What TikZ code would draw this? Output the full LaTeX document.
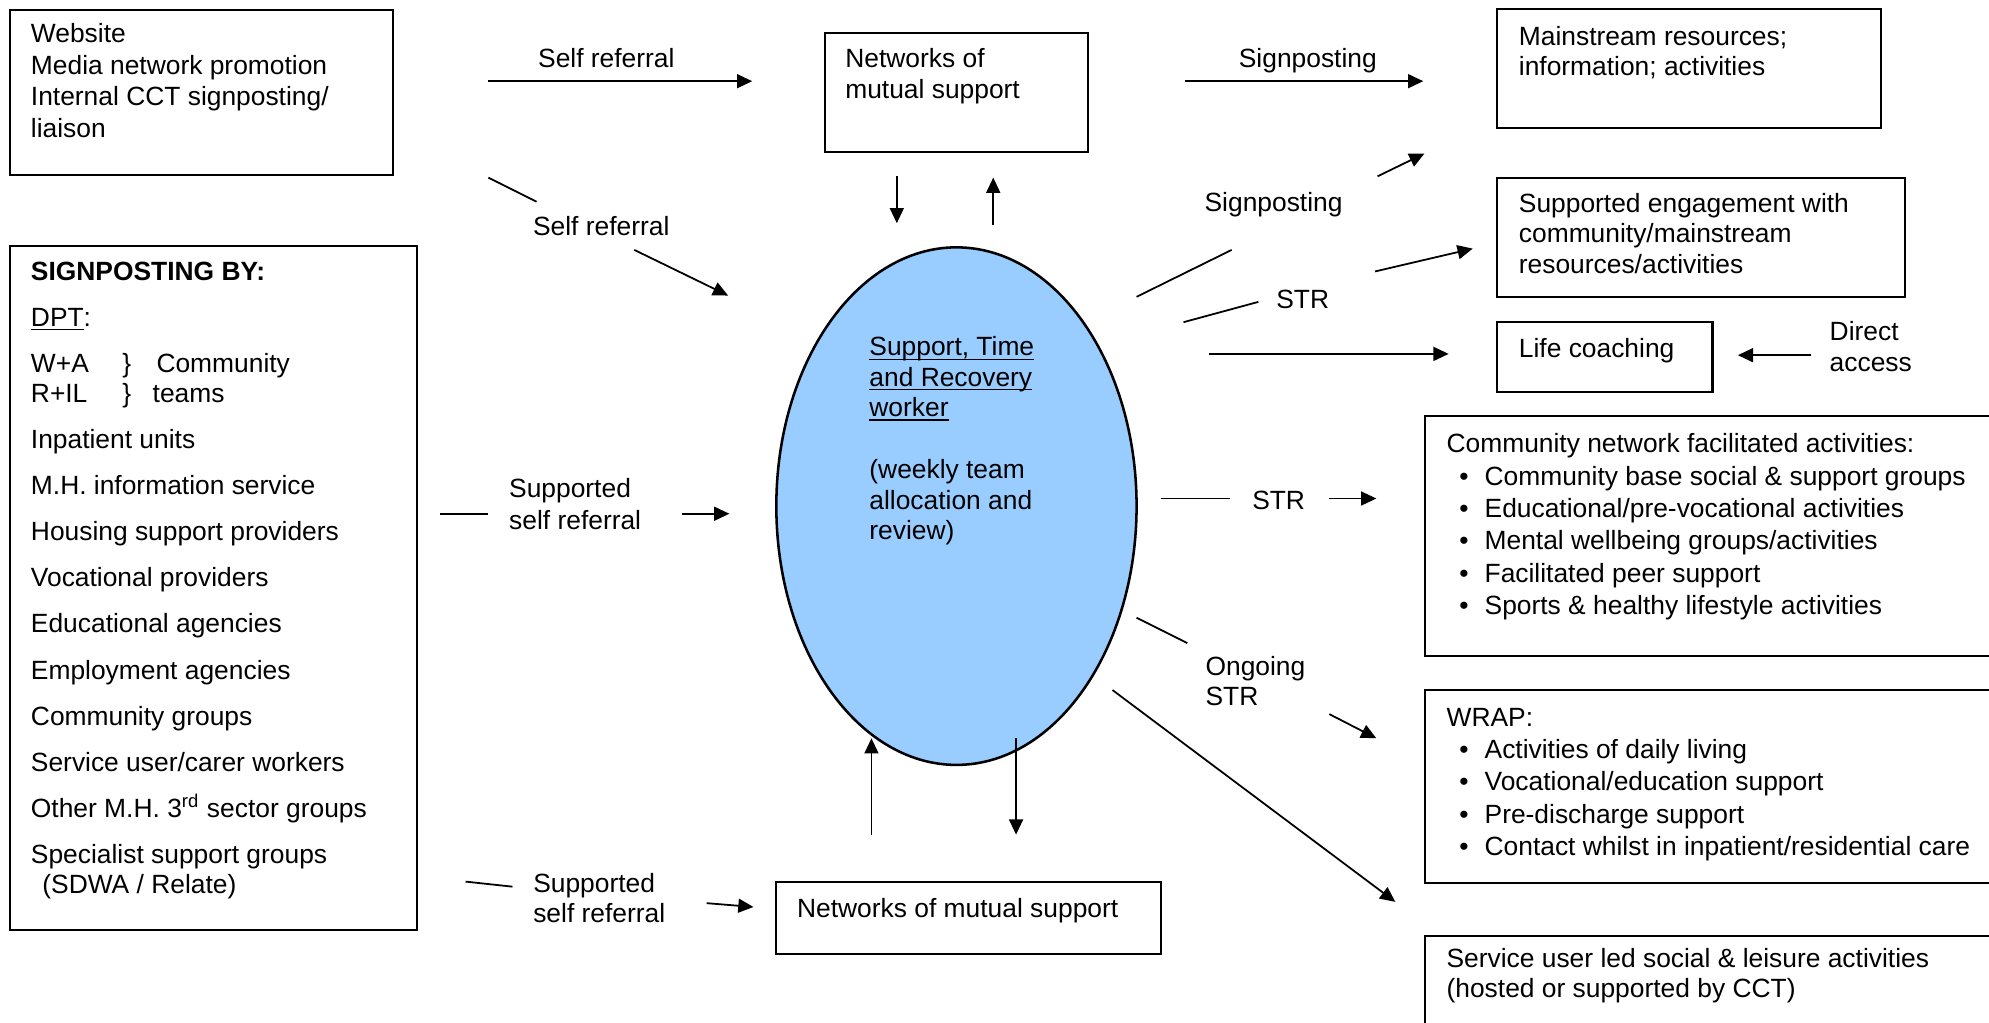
\documentclass[tikz,border=0pt]{standalone}
\usepackage{fontspec}
\setmainfont{Liberation Sans}
\usetikzlibrary{arrows.meta,shapes.geometric}
\definecolor{ellfill}{HTML}{99CCFF}
\newsavebox\myulbox
\newcommand\myul[1]{\sbox\myulbox{#1}\rlap{\rule[-1.6pt]{\wd\myulbox}{0.5pt}}\usebox\myulbox}
\newcommand\bitem[1]{\hspace*{5pt}\makebox[10pt][l]{\textbullet}#1}
\tikzset{
  box/.style={draw, line width=0.8pt, anchor=north west, inner sep=0pt, outer sep=0pt},
  txt/.style={anchor=base west, align=left, inner sep=0pt, font=\fontsize{10.4pt}{12pt}\selectfont},
  lbl/.style={anchor=base, inner sep=0pt, font=\fontsize{10.4pt}{12pt}\selectfont},
  conn/.style={line width=0.7pt},
  arr/.style={conn, -{Triangle[length=6pt,width=5.5pt]}},
}
\begin{document}
\begin{tikzpicture}[x=0.5pt,y=-0.5pt]
\useasboundingbox (0,0) rectangle (1568,806);
\clip (0,0) rectangle (1568,806);

% ---------- boxes ----------
\node[box, minimum width=151pt, minimum height=65pt] (web) at (8,8) {};
\node[box, minimum width=160.5pt, minimum height=269.5pt] (sign) at (8,194) {};
\node[box, minimum width=104pt, minimum height=47pt] (nettop) at (650,26) {};
\node[box, minimum width=151.5pt, minimum height=47pt] (main) at (1180,7) {};
\node[box, minimum width=161pt, minimum height=47pt] (eng) at (1180,140) {};
\node[box, minimum width=85pt, minimum height=27.5pt] (life) at (1180,254) {};
\node[box, minimum width=240pt, minimum height=94.5pt] (comm) at (1123,328) {};
\node[box, minimum width=240pt, minimum height=76pt] (wrap) at (1123,544) {};
\node[box, minimum width=240pt, minimum height=60pt] (led) at (1123,738) {};
\node[box, minimum width=151.5pt, minimum height=28.5pt] (netbot) at (612,695) {};
\node[draw, ellipse, line width=1pt, fill=ellfill, inner sep=0pt,
      minimum width=142pt, minimum height=204pt] (str) at (754,399) {};

% ---------- box texts (anchored at the baseline of the last line) ----------
\node[txt, font=\fontsize{10.4pt}{12.5pt}\selectfont] (webt) at (24,108.5)
  {Website\\Media network promotion\\Internal CCT signposting/\\liaison};
\node[txt] (signt) at (24,704.5)
  {\textbf{SIGNPOSTING BY:}\\[6.15pt]
   \myul{DPT}:\\[6.15pt]
   \makebox[36pt][l]{W+A}\makebox[13.5pt][l]{\}}Community\\
   \makebox[36pt][l]{R+IL}\makebox[12pt][l]{\}}teams\\[6.15pt]
   Inpatient units\\[6.15pt]
   M.H. information service\\[6.15pt]
   Housing support providers\\[6.15pt]
   Vocational providers\\[6.15pt]
   Educational agencies\\[6.15pt]
   Employment agencies\\[6.15pt]
   Community groups\\[6.15pt]
   Service user/carer workers\\[6.15pt]
   Other M.H. 3\textsuperscript{rd} sector groups\\[6.15pt]
   Specialist support groups\\
   \hspace*{4.5pt}(SDWA / Relate)};
\node[txt] (nettopt) at (666,77.5) {Networks of\\mutual support};
\node[txt] (maint) at (1197,59.5) {Mainstream resources;\\information; activities};
\node[txt] (engt) at (1197,215.5) {Supported engagement with\\community/mainstream\\resources/activities};
\node[txt] (lifet) at (1197,281.5) {Life coaching};
\node[txt] (direct) at (1442,292.5) {Direct\\access};
\node[txt, font=\fontsize{10.4pt}{12.75pt}\selectfont] (commt) at (1140,484.5)
  {Community network facilitated activities:\\
   \bitem{Community base social \& support groups}\\
   \bitem{Educational/pre-vocational activities}\\
   \bitem{Mental wellbeing groups/activities}\\
   \bitem{Facilitated peer support}\\
   \bitem{Sports \& healthy lifestyle activities}};
\node[txt, font=\fontsize{10.4pt}{12.75pt}\selectfont] (wrapt) at (1140,674.5)
  {WRAP:\\
   \bitem{Activities of daily living}\\
   \bitem{Vocational/education support}\\
   \bitem{Pre-discharge support}\\
   \bitem{Contact whilst in inpatient/residential care}};
\node[txt] (ledt) at (1140,786.5) {Service user led social \& leisure activities\\(hosted or supported by CCT)};
\node[txt] (netbott) at (628,723.5) {Networks of mutual support};
\node[txt] (strt) at (685,425.5)
  {\myul{Support, Time}\\\myul{and Recovery}\\\myul{worker}\\[12.5pt]
   (weekly team\\allocation and\\review)};

% ---------- labels ----------
\node[lbl] (l1) at (478,53.5) {Self referral};
\node[lbl] (l2) at (474,185.5) {Self referral};
\node[lbl] (l3) at (1031,53.5) {Signposting};
\node[lbl] (l4) at (1004,166.5) {Signposting};
\node[lbl] (l5) at (1027,243.5) {STR};
\node[lbl] (l6) at (1008,401.5) {STR};
\node[txt] (l7) at (950,556.5) {Ongoing\\STR};
\node[txt, font=\fontsize{10.4pt}{12.5pt}\selectfont] (l8) at (401,417.5) {Supported\\self referral};
\node[txt] (l9) at (420,727.5) {Supported\\self referral};

% ---------- connector end points ----------
\coordinate (a1s) at (385,64);   \coordinate (a1e) at (593,64);
\coordinate (a2s) at (385,140);  \coordinate (a2m) at (423,159);
\coordinate (a2n) at (500,197);  \coordinate (a2e) at (574,233);
\coordinate (a3s) at (707,139);  \coordinate (a3e) at (707,176);
\coordinate (a4s) at (783,177);  \coordinate (a4e) at (783,140);
\coordinate (a5s) at (934,64);   \coordinate (a5e) at (1122,64);
\coordinate (a6s) at (896,234);  \coordinate (a6m) at (971,197);
\coordinate (a6n) at (1086,139); \coordinate (a6e) at (1123,121);
\coordinate (a7s) at (933,254);  \coordinate (a7m) at (992,238);
\coordinate (a7n) at (1084,214); \coordinate (a7e) at (1161,196);
\coordinate (a8s) at (953,279);  \coordinate (a8e) at (1142,279);
\coordinate (a9s) at (1428,280); \coordinate (a9e) at (1370,280);
\coordinate (a10s) at (915,393); \coordinate (a10m) at (970,393);
\coordinate (a10n) at (1048,393);\coordinate (a10e) at (1085,393);
\coordinate (a11s) at (896,487); \coordinate (a11m) at (936,507);
\coordinate (a11n) at (1048,563);\coordinate (a11e) at (1085,582);
\coordinate (a12s) at (877,544); \coordinate (a12e) at (1100,711);
\coordinate (a13s) at (687,658); \coordinate (a13e) at (687,582);
\coordinate (a14s) at (801,582); \coordinate (a14e) at (801,658);
\coordinate (a15s) at (347,405); \coordinate (a15m) at (385,405);
\coordinate (a15n) at (538,405); \coordinate (a15e) at (575,405);
\coordinate (a16s) at (367,695); \coordinate (a16m) at (404,699);
\coordinate (a16n) at (557,712); \coordinate (a16e) at (594,715);

% ---------- connectors ----------
\draw[arr] (a1s) -- (a1e);
\draw[conn] (a2s) -- (a2m);
\draw[arr] (a2n) -- (a2e);
\draw[arr] (a3s) -- (a3e);
\draw[arr] (a4s) -- (a4e);
\draw[arr] (a5s) -- (a5e);
\draw[conn] (a6s) -- (a6m);
\draw[arr] (a6n) -- (a6e);
\draw[conn] (a7s) -- (a7m);
\draw[arr] (a7n) -- (a7e);
\draw[arr] (a8s) -- (a8e);
\draw[arr] (a9s) -- (a9e);
\draw[conn] (a10s) -- (a10m);
\draw[arr] (a10n) -- (a10e);
\draw[conn] (a11s) -- (a11m);
\draw[arr] (a11n) -- (a11e);
\draw[arr] (a12s) -- (a12e);
\draw[arr] (a13s) -- (a13e);
\draw[arr] (a14s) -- (a14e);
\draw[conn] (a15s) -- (a15m);
\draw[arr] (a15n) -- (a15e);
\draw[conn] (a16s) -- (a16m);
\draw[arr] (a16n) -- (a16e);
\end{tikzpicture}
\end{document}
